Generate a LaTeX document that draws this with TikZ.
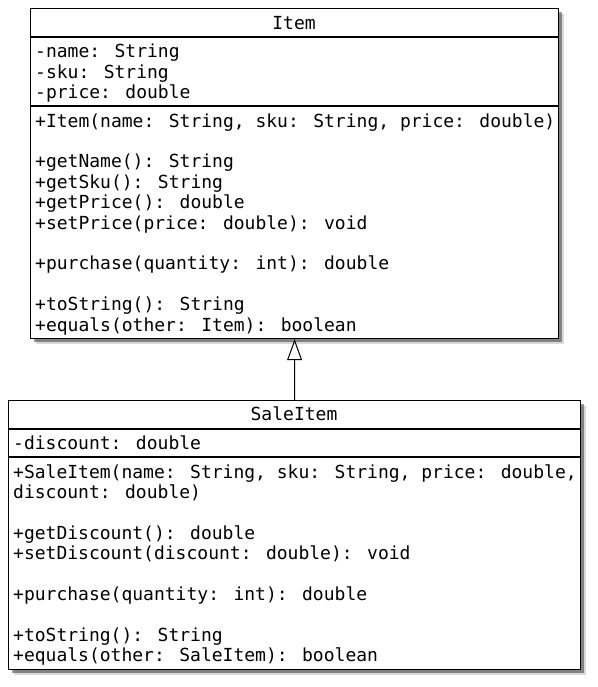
\documentclass[tikz,border=0pt]{standalone}
\usepackage{fontspec}
\newfontfamily\umlfont{DejaVu Sans Mono}
\usetikzlibrary{shadows,arrows.meta}
\tikzset{
  classbox/.style={draw=black, line width=1.2bp, fill=white, inner sep=0pt, anchor=north west,
    drop shadow={shadow xshift=5bp, shadow yshift=-5bp, fill=black, opacity=0.15},
    drop shadow={shadow xshift=3bp, shadow yshift=-3bp, fill=black, opacity=0.4}},
  divider/.style={draw=black, line width=1.2bp},
  umltext/.style={font=\umlfont\fontsize{18bp}{20.4bp}\selectfont, inner sep=0pt, align=left, anchor=north west},
  umltitle/.style={font=\umlfont\fontsize{18bp}{20.4bp}\selectfont, inner sep=0pt, anchor=base},
  inherit/.style={draw=black, line width=1bp, -{Triangle[open, length=21bp, width=15bp, fill=white]}}
}
\begin{document}
\begin{tikzpicture}[x=1bp, y=-1bp]
\useasboundingbox (0,0) rectangle (598,687);
% Item
\node[classbox, minimum width=528bp, minimum height=330bp] (item) at (30,8) {};
\draw[divider] (30,37) -- (558,37);
\draw[divider] (30,106) -- (558,106);
\node[umltitle] (itemtitle) at (294,29.5) {Item};
\node[umltext] (itemattrs) at (35,43.5) {\strut-name: String\\\strut-sku: String\\\strut-price: double};
\node[umltext] (itemops) at (35,112.7) {\strut+Item(name: String, sku: String, price: double)\\\strut\\
\strut+getName(): String\\\strut+getSku(): String\\\strut+getPrice(): double\\\strut+setPrice(price: double): void\\\strut\\
\strut+purchase(quantity: int): double\\\strut\\
\strut+toString(): String\\\strut+equals(other: Item): boolean};
% SaleItem
\node[classbox, minimum width=572bp, minimum height=269bp] (sale) at (8,400) {};
\draw[divider] (8,429) -- (580,429);
\draw[divider] (8,457) -- (580,457);
\node[umltitle] (saletitle) at (294,420.5) {SaleItem};
\node[umltext] (saleattrs) at (13,434.7) {\strut-discount: double};
\node[umltext] (saleops) at (13,463.7) {\strut+SaleItem(name: String, sku: String, price: double,\\\strut discount: double)\\\strut\\
\strut+getDiscount(): double\\\strut+setDiscount(discount: double): void\\\strut\\
\strut+purchase(quantity: int): double\\\strut\\
\strut+toString(): String\\\strut+equals(other: SaleItem): boolean};
% generalization
\draw[inherit] (sale.north) -- (item.south);
\end{tikzpicture}
\end{document}
